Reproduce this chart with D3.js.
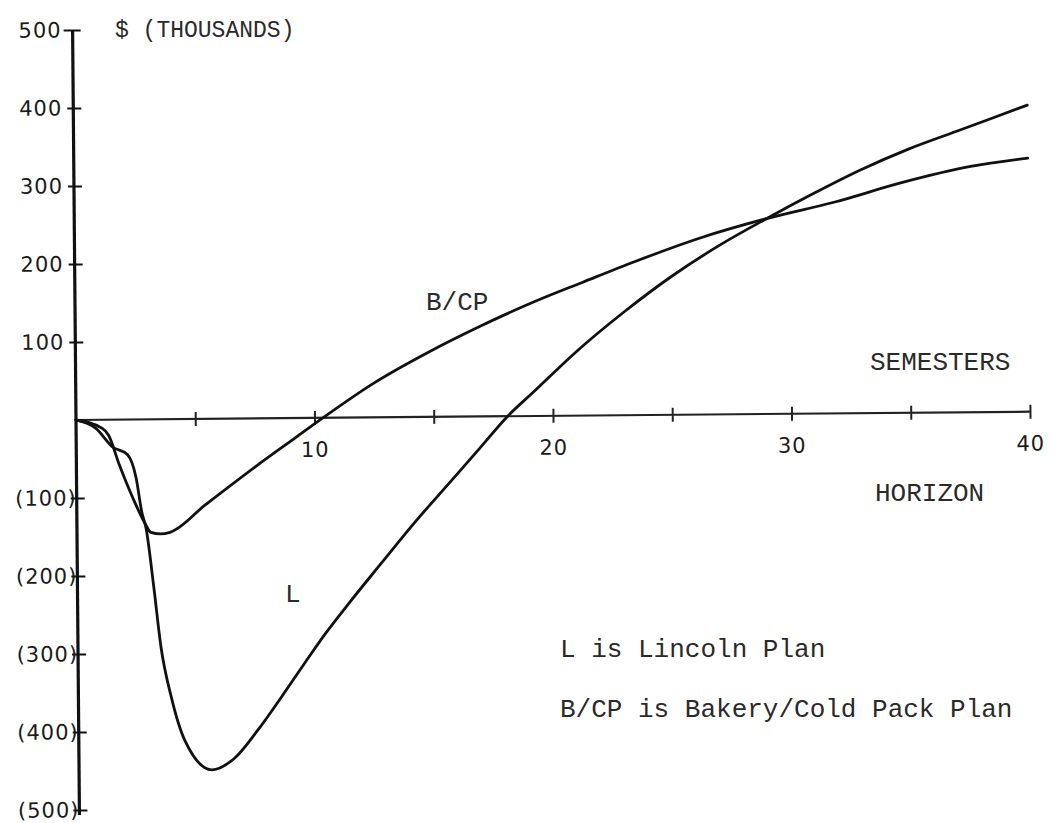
<!DOCTYPE html>
<html>
<head>
<meta charset="utf-8">
<script src="https://cdn.jsdelivr.net/npm/d3@7"></script>
<style>
	body { margin: 0; background: #fff; }
	svg { display: block; }
	.num { font-family: "DejaVu Sans", sans-serif; font-size: 21px; letter-spacing: 1px; fill: #1b1b1b; }
	.tw { font-family: "Liberation Mono", monospace; font-size: 26px; fill: #2a2a2a; }
</style>
</head>
<body>
<svg id="chart" width="1051" height="823"></svg>
<script>
let width = 1051;
let height = 823;

// cumulative $ (thousands) by semester
const semesters_L = [0, 0.83, 1.52, 2.15, 2.5, 2.72, 2.9, 3.2, 3.48, 3.9, 4.46, 5.58, 6.5, 7.5, 8.5,
	9.46, 10.37, 11.35, 12.75, 14.14, 15.54, 16.94, 18.1, 19.2, 21, 23, 25, 27, 29, 31, 33, 35, 37, 40];
const value_L = [0, -11, -35, -45, -75, -118, -140, -215, -292, -357, -413, -450, -436, -400, -358,
	-316, -277, -239, -187, -136, -88, -40, 0, 31, 82, 132, 177, 216, 250, 282, 312, 338, 360, 393];

const semesters_BCP = [0, 1.1, 1.36, 1.8, 2.36, 2.85, 3.1, 3.5, 3.9, 5.4, 7.5, 9.2, 10.35,
	12.5, 14.8, 17, 19.3, 21.3, 23.5, 26.3, 29.1, 31.9, 34.7, 37.6, 40];
const value_BCP = [0, -11, -20, -58, -101, -133, -145, -147, -145, -110, -62, -25, 0,
	44, 83, 116, 147, 171, 197, 227, 251, 271, 295, 315, 325];

const xTicks = [5, 10, 15, 20, 25, 30, 35, 40];
const xTickLabels = ["", "10", "", "20", "", "30", "", "40"];
const yTicks = [500, 400, 300, 200, 100, -100, -200, -300, -400, -500];
const yTickLabels = ["500", "400", "300", "200", "100", "(100)", "(200)", "(300)", "(400)", "(500)"];

const notes = ["L is Lincoln Plan", "B/CP is Bakery/Cold Pack Plan"];

let x = d3.scaleLinear().domain([0, 40]).range([76, 1030]);
let y = d3.scaleLinear().domain([-500, 500]).range([810, 30]);

const svg = d3.select("#chart");

// the scanned page sits a little crooked
const plot = svg.append("g")
	.attr("transform", `rotate(-0.5, ${x(0)}, ${y(0)})`);

// x axis through zero
const xAxis = d3.axisBottom(x)
	.tickValues(xTicks)
	.tickFormat((d, i) => xTickLabels[i])
	.tickSizeOuter(0);

plot.append("g")
	.attr("transform", `translate(0, ${y(0)})`)
	.call(xAxis)
	.call(g => g.select(".domain").attr("stroke", "#222").attr("stroke-width", 2.2)
		.attr("d", `M${x(0)},0H${x(40)}`))
	.call(g => g.selectAll(".tick line").attr("stroke", "#222").attr("stroke-width", 2)
		.attr("y1", -7).attr("y2", 7))
	.call(g => g.selectAll(".tick text").attr("class", "num").attr("font-family", null)
		.attr("font-size", null).attr("y", 24).attr("dy", "0.71em").attr("fill", null));

// y axis
const yAxis = d3.axisLeft(y)
	.tickValues(yTicks)
	.tickFormat((d, i) => yTickLabels[i])
	.tickSizeOuter(0);

plot.append("g")
	.attr("transform", `translate(${x(0)}, 0)`)
	.call(yAxis)
	.call(g => g.select(".domain").attr("stroke", "#111").attr("stroke-width", 3.2)
		.attr("d", `M0,${y(500)}V${y(-500) + 5}`))
	.call(g => g.selectAll(".tick line").attr("stroke", "#111").attr("stroke-width", 2)
		.attr("x1", d => d === 500 ? -9 : -6).attr("x2", 8))
	.call(g => g.selectAll(".tick text").attr("class", "num").attr("font-family", null)
		.attr("font-size", null).attr("fill", null)
		.attr("x", d => d < 0 ? 0 : -11));

// the two plans
const line = d3.line()
	.x(d => x(d[0]))
	.y(d => y(d[1]))
	.curve(d3.curveMonotoneX);

const series = [
	d3.zip(semesters_L, value_L),
	d3.zip(semesters_BCP, value_BCP)
];

plot.selectAll("path.plan")
	.data(series)
	.enter()
	.append("path")
	.attr("class", "plan")
	.attr("d", line)
	.attr("fill", "none")
	.attr("stroke", "#111")
	.attr("stroke-width", 2.8)
	.attr("stroke-linejoin", "round")
	.attr("stroke-linecap", "round");

// typed labels
svg.append("text").attr("class", "tw").style("font-size", "23px")
	.attr("x", 115).attr("y", 37).text("$ (THOUSANDS)");
svg.append("text").attr("class", "tw").attr("x", 870).attr("y", 370).text("SEMESTERS");
svg.append("text").attr("class", "tw").attr("x", 875).attr("y", 501).text("HORIZON");
svg.append("text").attr("class", "tw").attr("x", 426).attr("y", 310).text("B/CP");
svg.append("text").attr("class", "tw").attr("x", 285).attr("y", 602).text("L");

svg.selectAll("text.note")
	.data(notes)
	.enter()
	.append("text")
	.attr("class", "tw note")
	.attr("x", 560)
	.attr("y", (d, i) => 657 + i * 60)
	.text(d => d);
</script>
</body>
</html>
